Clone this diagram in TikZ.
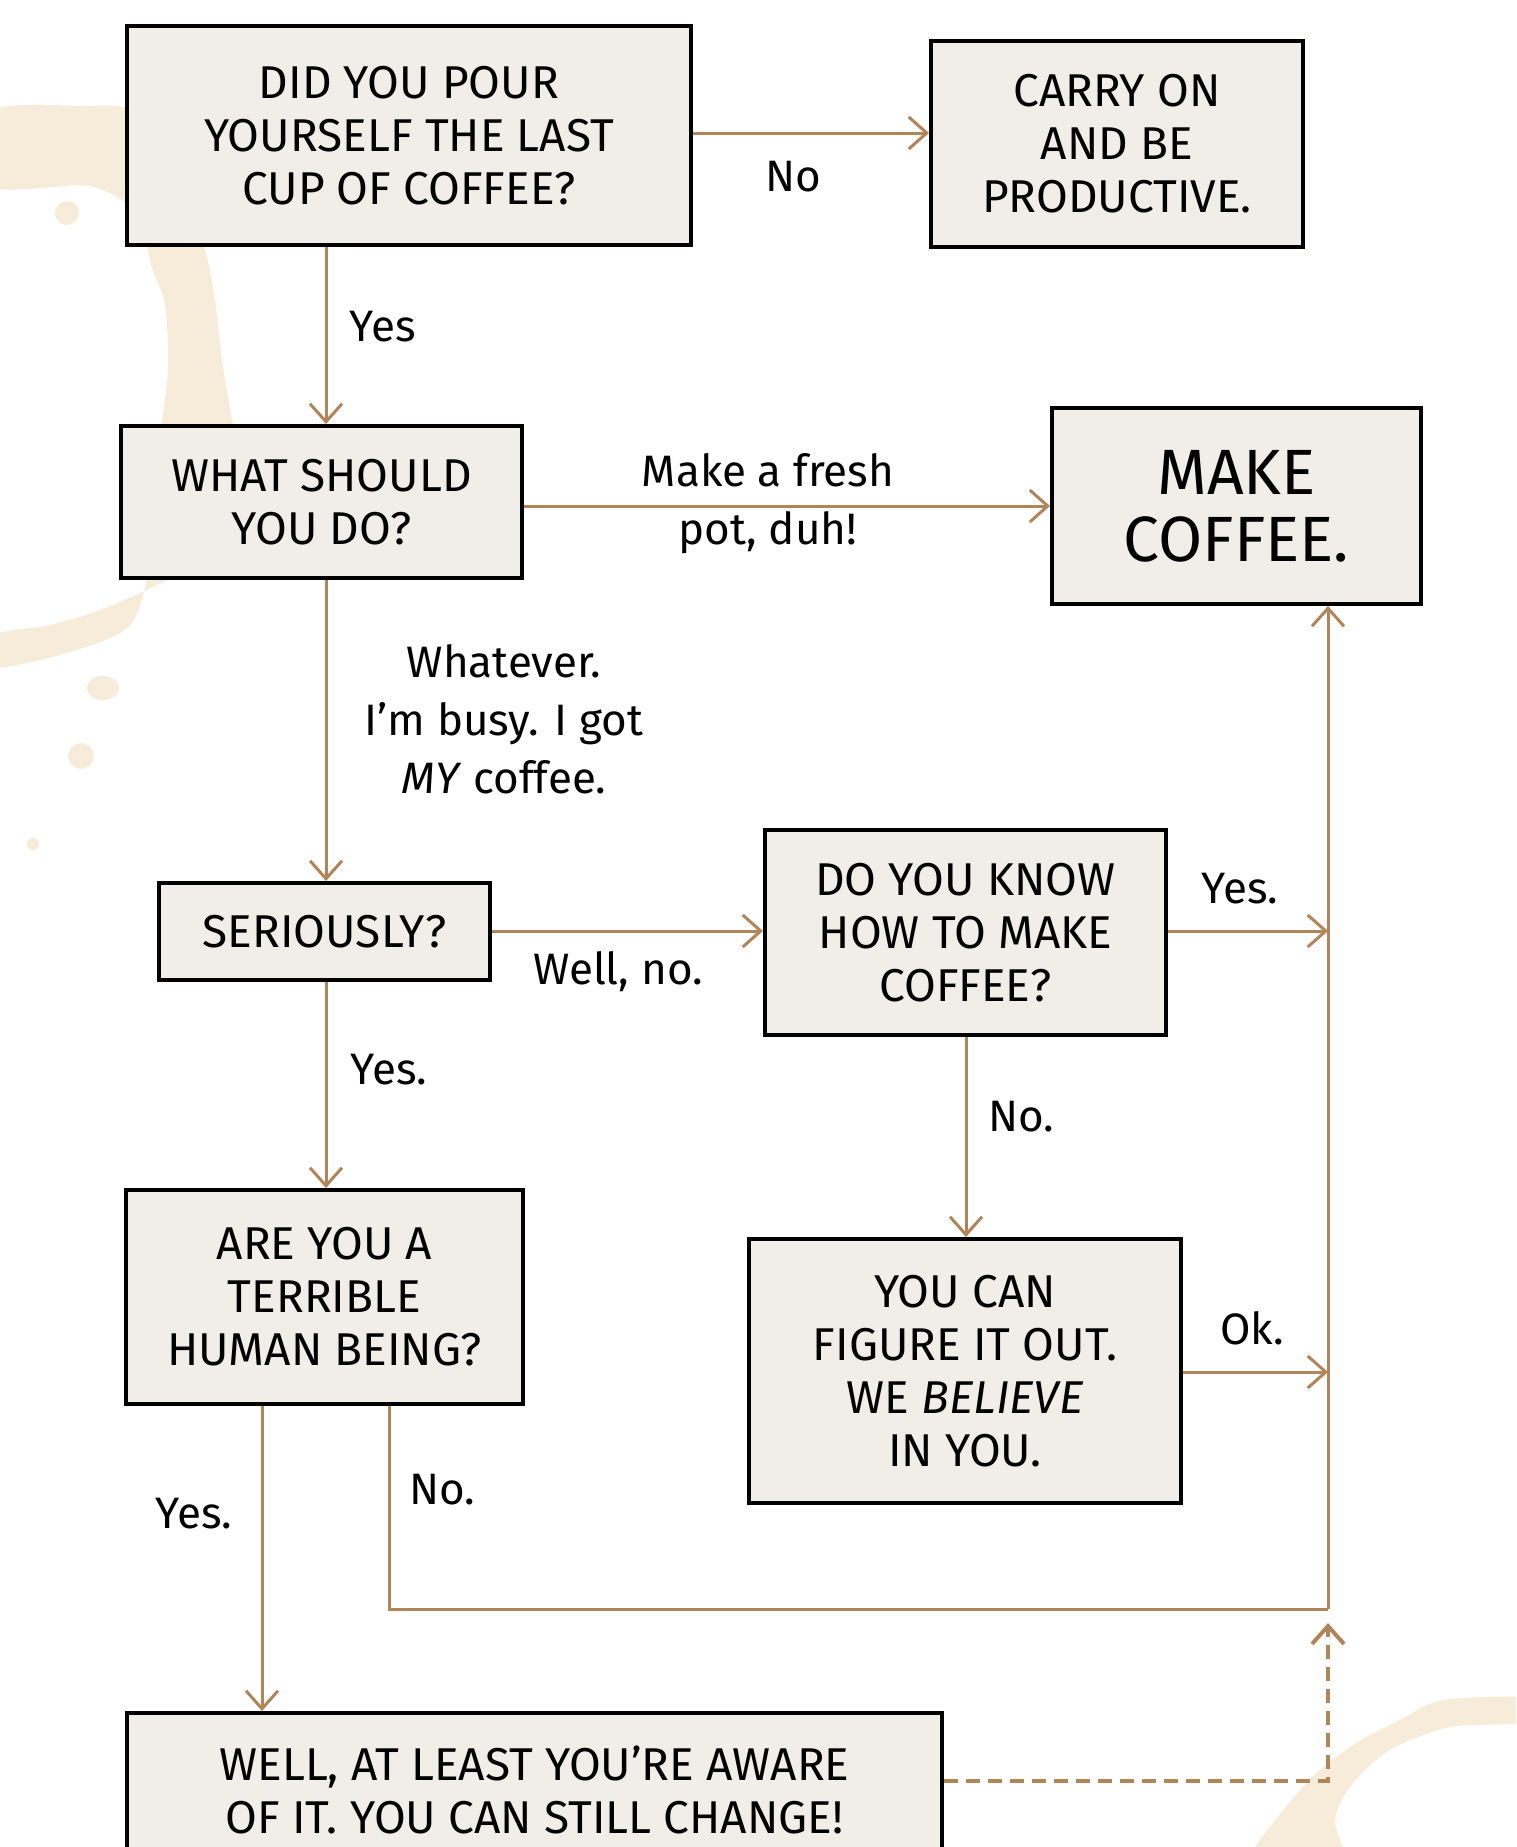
\documentclass[tikz,border=0pt]{standalone}
\usepackage{fontspec}
\setmainfont{Fira Sans}
\usetikzlibrary{arrows.meta}
\definecolor{lineColor}{RGB}{178,132,90}
\definecolor{boxColor}{RGB}{241,237,233}
\definecolor{stainColor}{RGB}{247,236,218}
\tikzstyle{fBox}=[rectangle, draw=black, line width=2pt, fill=boxColor,
align=center, inner sep=0pt, font=\fontsize{23}{26.5}\selectfont]
\tikzstyle{arrow}=[-{Straight Barb[length=9pt, width=16pt]}, line width=1.5pt, draw=lineColor]
\tikzstyle{line}=[line width=1.5pt, draw=lineColor]
\tikzstyle{lbl}=[align=center, inner sep=0pt, font=\fontsize{22}{29}\selectfont]

\begin{document}
\begin{tikzpicture}[x=0.5pt, y=-0.5pt]
      \useasboundingbox (0,0) rectangle (1516,1847);
      \clip (0,0) rectangle (1516,1847);
      % coffee stains
      \fill [stainColor] plot[smooth cycle] coordinates {(-10,112) (80,106) (140,115)
        (185,200) (205,250) (215,300) (222,360) (232,420) (240,470) (200,560)
        (157,585) (100,610) (50,625) (-10,636) (-10,668) (70,652) (130,625)
        (150,560) (160,440) (168,370) (165,305) (152,268) (148,250) (140,215)
        (90,186) (-10,186)};
      \fill [stainColor] (67,213) circle (12);
      \fill [stainColor] (103,688) ellipse (16 and 12);
      \fill [stainColor] (81,756) circle (13);
      \fill [stainColor] (33,844) circle (6);
      \fill [stainColor] plot[smooth cycle] coordinates {(1240,1880) (1300,1790)
        (1350,1747) (1400,1720) (1443,1700) (1530,1698) (1530,1722) (1450,1727)
        (1390,1750) (1353,1783) (1335,1820) (1345,1880)};

      \node(b1) [fBox, minimum width=282pt, minimum height=109.5pt] at (409,135.5)
        {DID YOU POUR\\YOURSELF THE LAST\\CUP OF COFFEE?};
      \node(b2) [fBox, minimum width=186pt, minimum height=103pt] at (1117,144)
        {CARRY ON\\AND BE\\PRODUCTIVE.};
      \node(b3) [fBox, minimum width=200.5pt, minimum height=76pt] at (321.5,502)
        {WHAT SHOULD\\YOU DO?};
      \node(b4) [fBox, minimum width=184.5pt, minimum height=98pt,
        font=\fontsize{32}{33.5}\selectfont] at (1236.5,506) {MAKE\\COFFEE.};
      \node(b5) [fBox, minimum width=165.5pt, minimum height=48.5pt] at (324.5,931.5)
        {SERIOUSLY?};
      \node(b6) [fBox, minimum width=200.5pt, minimum height=102.5pt] at (965.5,932.5)
        {DO YOU KNOW\\HOW TO MAKE\\COFFEE?};
      \node(b7) [fBox, minimum width=198.5pt, minimum height=107pt] at (324.5,1297)
        {ARE YOU A\\TERRIBLE\\HUMAN BEING?};
      \node(b8) [fBox, minimum width=216pt, minimum height=132pt] at (965,1371)
        {YOU CAN\\FIGURE IT OUT.\\WE \textit{BELIEVE}\\IN YOU.};
      \node(b9) [fBox, minimum width=407.5pt, minimum height=77pt] at (534.5,1790)
        {WELL, AT LEAST YOU'RE AWARE\\OF IT. YOU CAN STILL CHANGE!};

      \coordinate(r1) at (0,133);
      \coordinate(c1) at (326,0);
      \coordinate(r3) at (0,506);
      \coordinate(r5) at (0,931);
      \coordinate(trunk) at (1328,0);
      \coordinate(c6) at (966,0);
      \coordinate(r8) at (0,1372);
      \coordinate(c7a) at (262,0);
      \coordinate(c7b) at (389,0);
      \coordinate(jNo) at (1328,1609);
      \coordinate(jDash) at (1328,1623);
      \coordinate(r9) at (0,1781);

      \draw [arrow] (b1.east |- r1) -- (b2.west |- r1);
      \draw [arrow] (b1.south -| c1) -- (b3.north -| c1);
      \draw [arrow] (b3.east |- r3) -- (b4.west |- r3);
      \draw [arrow] (b3.south -| c1) -- (b5.north -| c1);
      \draw [arrow] (b5.east |- r5) -- (b6.west |- r5);
      \draw [arrow] (b6.east |- r5) -- (trunk |- r5);
      \draw [arrow] (jNo) -- (b4.south -| trunk);
      \draw [arrow] (b6.south -| c6) -- (b8.north -| c6);
      \draw [arrow] (b8.east |- r8) -- (trunk |- r8);
      \draw [arrow] (b5.south -| c1) -- (b7.north -| c1);
      \draw [arrow] (b7.south -| c7a) -- (b9.north -| c7a);
      \draw [line] (b7.south -| c7b) |- (jNo);
      \draw [arrow, line width=2pt, dash pattern=on 7pt off 4pt] (b9.east |- r9) -| (jDash);

      \node(lNo1) [lbl] at (793,177) {No};
      \node(lYes1) [lbl] at (383,327) {Yes};
      \node(lFresh) [lbl] at (768,504) {Make a fresh\\pot, duh!};
      \node(lBusy) [lbl] at (504,719) {Whatever.\\I'm busy. I got\\\textit{MY} coffee.};
      \node(lWell) [lbl] at (618,972) {Well, no.};
      \node(lYes2) [lbl] at (1240,889) {Yes.};
      \node(lNo2) [lbl] at (1021,1117) {No.};
      \node(lOk) [lbl] at (1252,1328) {Ok.};
      \node(lYes3) [lbl] at (389,1070) {Yes.};
      \node(lYes4) [lbl] at (194,1514) {Yes.};
      \node(lNo3) [lbl] at (442,1490) {No.};
    \end{tikzpicture}
\end{document}
